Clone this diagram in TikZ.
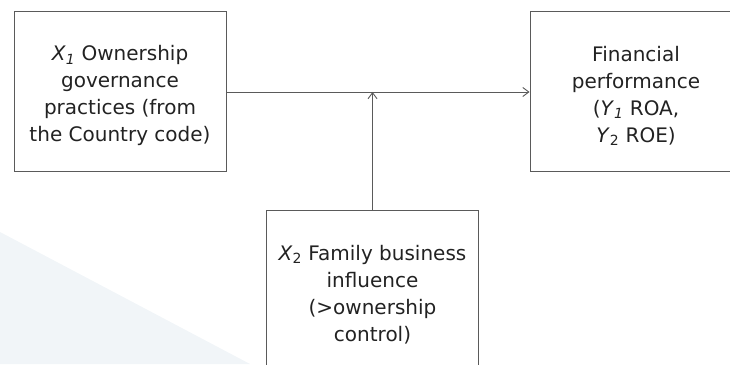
\documentclass[tikz,border=0pt]{standalone}
\usepackage{fontspec}
\setmainfont{DejaVu Sans}
\usetikzlibrary{arrows.meta}
\definecolor{linegray}{HTML}{5A5A5A}
\definecolor{textgray}{HTML}{222222}
\definecolor{bgblue}{HTML}{F1F5F8}
\newcommand{\topstrut}{\rule{0pt}{23pt}}
\begin{document}
\begin{tikzpicture}[x=1pt,y=1pt,var/.style={shape=rectangle,draw=linegray,line width=1pt,minimum width=212pt,minimum height=160pt,align=center,text=textgray,font=\fontsize{20}{27}\selectfont},link/.style={draw=linegray,line width=0.9pt,-{Straight Barb[length=6pt,width=9pt,line width=0.9pt]}}]
\def\dy{272};
\def\xm{372.5};

\useasboundingbox (0,0) rectangle (730,364);
\fill[bgblue] (0,0) -- (0,132) -- (250,0) -- cycle;

\node[var] (X1) at (120,\dy) {\topstrut\textit{X}\textsubscript{\textit{1}} Ownership\\governance\\practices (from\\the Country code)};
\node[var] (Y) at (636,\dy) {\topstrut Financial\\performance\\(\textit{Y}\textsubscript{\textit{1}} ROA,\\\textit{Y}\textsubscript{2} ROE)};
\node[var] (X2) at (\xm,73) {\topstrut\textit{X}\textsubscript{2} Family business\\influence\\(>ownership\\control)};

\coordinate (M) at (\xm,\dy);
\draw[link] (X1.east) -- (Y.west);
\draw[link] (X2.north) -- (M);
\end{tikzpicture}
\end{document}
